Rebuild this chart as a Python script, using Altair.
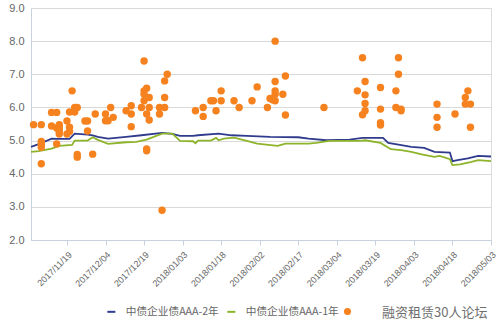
import altair as alt
import pandas as pd

# ---- series names ----
s2 = "中债企业债AAA-2年"
s1 = "中债企业债AAA-1年"
s3 = "发行利率"

# ---- 中债企业债AAA-2年 ----
d2 = ["2017-11-05","2017-11-08","2017-11-13","2017-11-15","2017-11-20","2017-11-22","2017-11-27",
      "2017-11-29","2017-12-01","2017-12-05","2017-12-12","2017-12-18","2017-12-26","2017-12-30",
      "2018-01-02","2018-01-07","2018-01-09","2018-01-17","2018-01-22","2018-01-28","2018-02-06",
      "2018-02-17","2018-02-21","2018-02-28","2018-03-09","2018-03-14","2018-03-22","2018-03-24",
      "2018-03-28","2018-04-02","2018-04-07","2018-04-11","2018-04-17","2018-04-18","2018-04-20",
      "2018-04-24","2018-04-28","2018-05-03"]
v2 = [4.81,4.89,5.06,5.05,5.05,5.21,5.18,
      5.16,5.11,5.06,5.11,5.16,5.23,5.20,
      5.14,5.14,5.16,5.21,5.16,5.14,5.11,
      5.10,5.06,5.01,5.03,5.08,5.08,4.93,
      4.88,4.81,4.78,4.66,4.64,4.38,4.41,
      4.46,4.54,4.52]

# ---- 中债企业债AAA-1年 ----
d1 = ["2017-11-05","2017-11-08","2017-11-13","2017-11-16","2017-11-21","2017-11-22","2017-11-27",
      "2017-11-29","2017-12-01","2017-12-05","2017-12-12","2017-12-16","2017-12-20","2017-12-22",
      "2017-12-26","2017-12-30","2018-01-02","2018-01-07","2018-01-08","2018-01-09","2018-01-14",
      "2018-01-16","2018-01-17","2018-01-19","2018-01-23","2018-01-28","2018-02-01","2018-02-09",
      "2018-02-12","2018-02-21","2018-02-24","2018-03-01","2018-03-13","2018-03-15","2018-03-21",
      "2018-03-25","2018-03-29","2018-04-02","2018-04-06","2018-04-11","2018-04-13","2018-04-17",
      "2018-04-18","2018-04-21","2018-04-25","2018-04-28","2018-05-03"]
v1 = [4.66,4.68,4.76,4.84,4.87,5.00,5.00,
      5.10,5.02,4.90,4.95,4.96,5.03,5.09,
      5.21,5.21,4.99,4.98,4.92,5.00,5.00,
      5.08,5.01,5.06,5.09,4.99,4.91,4.84,
      4.91,4.91,4.93,4.99,4.99,5.01,4.93,
      4.74,4.71,4.66,4.58,4.51,4.54,4.44,
      4.26,4.28,4.35,4.41,4.38]

# ---- 发行利率 (scatter) ----
pd_dates = ["2017-11-06","2017-11-09","2017-11-09","2017-11-09","2017-11-09","2017-11-09",
            "2017-11-13","2017-11-13","2017-11-15","2017-11-15","2017-11-16","2017-11-16",
            "2017-11-16","2017-11-16","2017-11-16","2017-11-15","2017-11-19","2017-11-19",
            "2017-11-20","2017-11-20","2017-11-20","2017-11-21","2017-11-22","2017-11-22",
            "2017-11-23","2017-11-23","2017-11-23","2017-11-26","2017-11-27","2017-11-27",
            "2017-11-29","2017-11-30","2017-12-04","2017-12-04","2017-12-05","2017-12-06",
            "2017-12-07","2017-12-12","2017-12-14","2017-12-14","2017-12-14","2017-12-18",
            "2017-12-19","2017-12-19","2017-12-19","2017-12-20","2017-12-19","2017-12-20",
            "2017-12-20","2017-12-20","2017-12-21","2017-12-21","2017-12-21","2017-12-25",
            "2017-12-25","2017-12-26","2017-12-27","2017-12-27","2017-12-27","2017-12-28",
            "2018-01-08","2018-01-11","2018-01-11","2018-01-14","2018-01-15","2018-01-16",
            "2018-01-18","2018-01-18","2018-01-23","2018-01-25","2018-01-30","2018-02-01",
            "2018-02-05","2018-02-06","2018-02-07","2018-02-08","2018-02-08","2018-02-08",
            "2018-02-08","2018-02-08","2018-02-11","2018-02-12","2018-02-12","2018-02-27",
            "2018-03-12","2018-03-14","2018-03-15","2018-03-15","2018-03-15","2018-03-15",
            "2018-03-14","2018-03-21","2018-03-21","2018-03-21","2018-03-21","2018-03-28",
            "2018-03-28","2018-03-27","2018-03-27","2018-03-29","2018-03-29","2018-04-12",
            "2018-04-12","2018-04-12","2018-04-19","2018-04-23","2018-04-24","2018-04-23",
            "2018-04-25","2018-04-25"]
pd_values = [5.48,5.48,4.97,4.88,4.80,4.30,
             5.85,5.44,5.85,5.38,5.48,5.42,
             5.33,5.27,5.20,4.90,5.59,5.20,
             5.40,5.27,5.86,6.50,5.86,6.00,
             6.00,4.58,4.50,5.59,5.59,5.29,
             4.59,5.80,5.80,5.60,5.60,6.00,
             5.70,5.90,6.05,5.80,5.42,6.00,
             7.40,6.50,6.40,6.58,6.20,5.80,
             4.75,4.69,6.30,6.00,5.62,6.00,
             5.80,2.90,6.00,6.30,6.80,7.00,
             5.90,6.00,5.73,6.20,6.20,5.90,
             6.50,6.20,6.20,6.00,6.20,6.62,
             6.00,6.27,6.23,8.00,6.78,6.50,
             6.40,6.20,6.40,6.95,5.77,6.00,
             6.50,7.50,6.78,6.38,6.12,5.90,
             5.78,6.60,5.95,5.54,5.47,7.50,
             7.00,6.50,6.00,5.95,5.90,6.10,
             5.70,5.40,5.80,6.30,6.50,6.10,
             6.10,5.40]

tick_labels = ["2017/11/19","2017/12/04","2017/12/19","2018/01/03","2018/01/18","2018/02/02",
               "2018/02/17","2018/03/04","2018/03/19","2018/04/03","2018/04/18","2018/05/03"]
y_ticks = [2.0, 3.0, 4.0, 5.0, 6.0, 7.0, 8.0, 9.0]

line_colors = ["#2f3b8c", "#8db42a"]
point_color = "#f5821f"

lines_df = pd.concat([
    pd.DataFrame({"date": pd.to_datetime(d2), "value": v2, "series": s2}),
    pd.DataFrame({"date": pd.to_datetime(d1), "value": v1, "series": s1}),
])
pts_df = pd.DataFrame({"date": pd.to_datetime(pd_dates), "value": pd_values, "series": s3})


def dt(s):
    y, m, d = s.split("/")
    return alt.DateTime(year=int(y), month=int(m), date=int(d))


x_enc = alt.X(
    "date:T",
    scale=alt.Scale(domain=[alt.DateTime(year=2017, month=11, date=5),
                            alt.DateTime(year=2018, month=5, date=3)]),
    axis=alt.Axis(values=[dt(t) for t in tick_labels], format="%Y/%m/%d",
                  labelAngle=315, labelFontSize=9, labelColor="#666666",
                  labelFont="Liberation Sans", grid=False, tickSize=5,
                  tickColor="#c8d2de", domainColor="#c8d2de", labelPadding=5,
                  title=None, labelOverlap=False),
)
y_enc = alt.Y(
    "value:Q",
    scale=alt.Scale(domain=[2, 9], nice=False),
    axis=alt.Axis(values=y_ticks, format=".1f", labelFontSize=11, labelColor="#666666",
                  labelFont="Liberation Sans", ticks=False, labelPadding=7,
                  gridColor="#d9d9d9", domainColor="#c8d2de", title=None),
)

lines = alt.Chart(lines_df).mark_line(strokeWidth=1.8).encode(
    x=x_enc, y=y_enc,
    color=alt.Color("series:N", scale=alt.Scale(domain=[s2, s1], range=line_colors),
                    legend=alt.Legend(orient="none", legendX=75, legendY=298,
                                      direction="horizontal", title=None,
                                      labelFontSize=10.7, labelFont="Noto Sans CJK SC",
                                      labelColor="#666666", columnPadding=4, labelOffset=9,
                                      symbolType="stroke", symbolSize=64,
                                      symbolStrokeWidth=2)),
)
points = alt.Chart(pts_df).mark_circle(size=55, opacity=1).encode(
    x=x_enc, y=y_enc,
    color=alt.Color("series:N", scale=alt.Scale(domain=[s3], range=[point_color]),
                    legend=alt.Legend(orient="none", legendX=311, legendY=298,
                                      direction="horizontal", title=None,
                                      labelFontSize=11, labelFont="Noto Sans CJK SC",
                                      labelColor="#666666", labelExpr="''",
                                      symbolType="circle", symbolSize=50,
                                      symbolOpacity=1)),
)
wm = alt.Chart(pd.DataFrame({"t": ["融资租赁30人论坛"]})).mark_text(
    align="left", baseline="middle", fontSize=13, font="Noto Sans CJK SC",
    color="#555555", opacity=0.85,
).encode(x=alt.value(351), y=alt.value(305), text="t:N")

chart = alt.layer(lines, points, wm).resolve_scale(color="independent").resolve_legend(
    color="independent"
).properties(
    width=460, height=232,
    autosize=alt.AutoSizeParams(type="none"),
    padding={"left": 31, "top": 8, "right": 9, "bottom": 93},
).configure_view(stroke=None).configure(background="white")

chart.save("out.html", embed_options={"renderer": "svg", "actions": False})
